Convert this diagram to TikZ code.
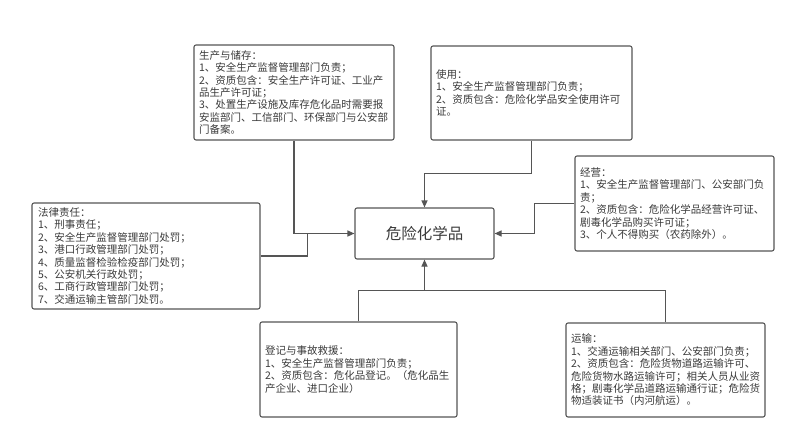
\documentclass[tikz,border=0pt]{standalone}
\usepackage{fontspec}
\setmainfont{Noto Sans CJK SC}
\usepackage{xcolor}
\usepackage{tikz}
\usetikzlibrary{arrows.meta, calc}

\definecolor{linegray}{HTML}{555555}
\definecolor{textgray}{HTML}{3A3A3A}

\begin{document}
\begin{tikzpicture}[
    x=1pt, y=-1pt,
    >={Triangle[length=7pt, width=6pt]},
    every node/.style={font=\fontsize{10.5}{12.4}\selectfont, text=textgray},
    infobox/.style={rectangle, draw=linegray, line width=1.1pt, rounded corners=2pt, align=left, inner xsep=5pt, inner ysep=0pt},
    core/.style={rectangle, draw=linegray, line width=1.1pt, rounded corners=2pt, minimum width=139pt, minimum height=51pt, font=\fontsize{15.5}{18}\selectfont},
    link/.style={draw=linegray, line width=1.1pt},
    arrow/.style={->, link},
]
\useasboundingbox (0,0) rectangle (803,439);

% --- Central node ---
\node[core] (chem) at (424.5,233.5) {危险化学品};

% --- Surrounding boxes ---
\node[infobox, minimum width=200pt, minimum height=95pt, text width=190pt] (prod) at (294,92.5)
    {生产与储存：\\1、安全生产监督管理部门负责；\\2、资质包含：安全生产许可证、工业产\\品生产许可证；\\3、处置生产设施及库存危化品时需要报\\安监部门、工信部门、环保部门与公安部\\门备案。};
\node[infobox, minimum width=201pt, minimum height=94pt, text width=191pt] (use) at (531.5,93)
    {使用：\\1、安全生产监督管理部门负责；\\2、资质包含：危险化学品安全使用许可\\证。};
\node[infobox, minimum width=199pt, minimum height=95pt, text width=189pt] (trade) at (674.5,203.5)
    {经营：\\1、安全生产监督管理部门、公安部门负\\责；\\2、资质包含：危险化学品经营许可证、\\剧毒化学品购买许可证；\\3、个人不得购买（农药除外）。};
\node[infobox, minimum width=228pt, minimum height=106pt, text width=216pt] (law) at (146,256)
    {法律责任：\\1、刑事责任；\\2、安全生产监督管理部门处罚；\\3、港口行政管理部门处罚；\\4、质量监督检验检疫部门处罚；\\5、公安机关行政处罚；\\6、工商行政管理部门处罚；\\7、交通运输主管部门处罚。};
\node[infobox, minimum width=197pt, minimum height=95pt, text width=187pt] (reg) at (358.5,369.5)
    {登记与事故救援：\\1、安全生产监督管理部门负责；\\2、资质包含：危化品登记。（危化品生\\产企业、进口企业）};
\node[infobox, minimum width=199pt, minimum height=94pt, text width=189pt] (trans) at (665.5,370)
    {运输：\\1、交通运输相关部门、公安部门负责；\\2、资质包含：危险货物道路运输许可、\\危险货物水路运输许可；相关人员从业资\\格；剧毒化学品道路运输通行证；危险货\\物适装证书（内河航运）。};

% --- Arrows: left side ---
\draw[arrow] (prod.south) |- (chem.west);
\draw[link] (law.east) -| ($(chem.west)+(-47,0)$);

% --- Arrow: top ---
\draw[arrow] (use.south) -- ++(0,33) -| (chem.north);

% --- Arrow: right side ---
\draw[arrow] (trade.west) -- ++(-40,0) |- (chem.east);

% --- Arrows: bottom ---
\coordinate (bus) at ($(reg.north)+(0,-31)$);
\draw[link] (reg.north) -- (bus) -| (trans.north);
\draw[arrow] (chem.south |- bus) -- (chem.south);

\end{tikzpicture}
\end{document}
